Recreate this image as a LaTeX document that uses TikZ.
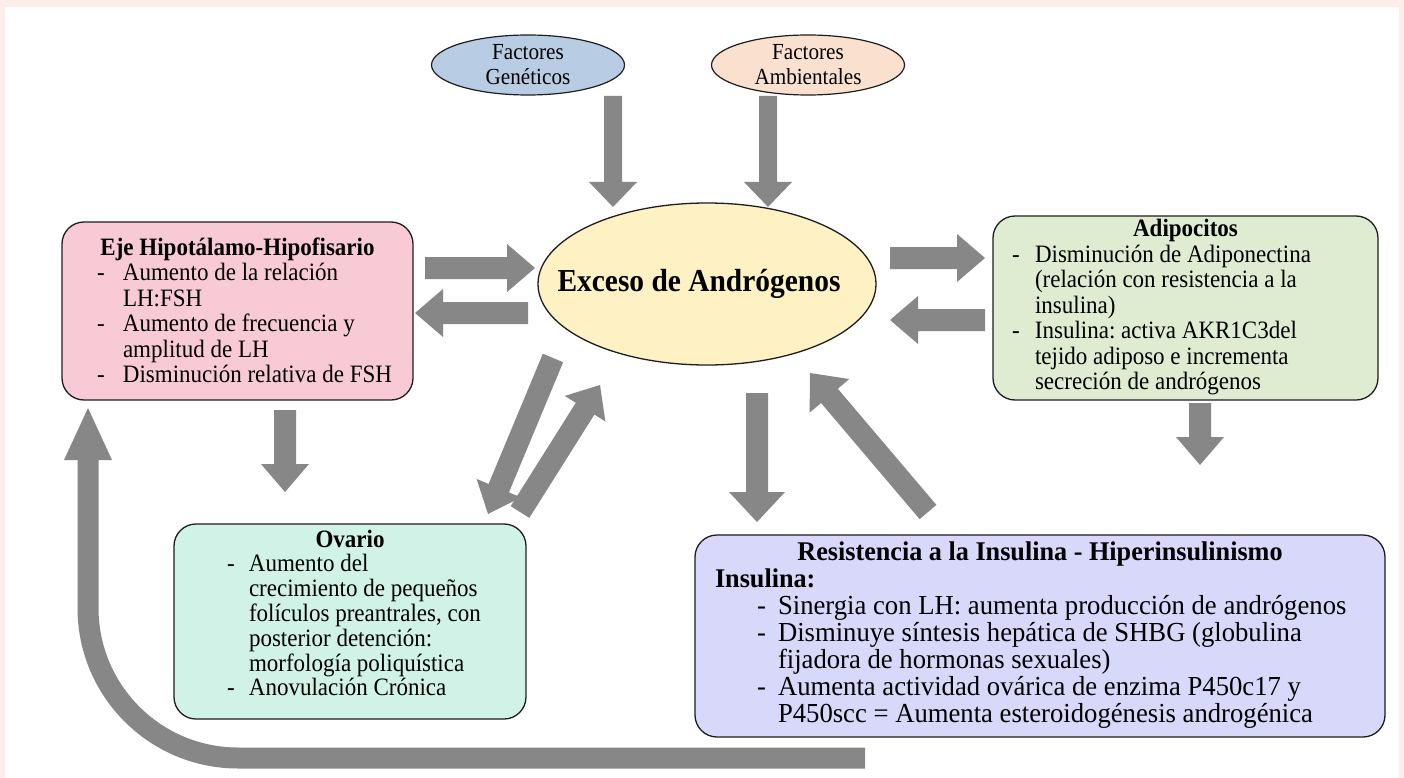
\documentclass[tikz,border=0pt]{standalone}
\usepackage{fontspec}
\setmainfont{Liberation Serif}[FakeStretch=0.92]
\newfontfamily\resfam{Liberation Serif}[FakeStretch=0.97]
\usetikzlibrary{calc,shapes.geometric}

\definecolor{pageedge}{HTML}{FDEDEB}
\definecolor{genblue}{HTML}{B8CCE4}
\definecolor{ambpeach}{HTML}{FAE0CE}
\definecolor{excyellow}{HTML}{FEF1C4}
\definecolor{ejepink}{HTML}{F8CAD5}
\definecolor{adipgreen}{HTML}{DFECD2}
\definecolor{ovamint}{HTML}{D0F2E7}
\definecolor{reslav}{HTML}{D8D8FA}
\definecolor{arrowgray}{HTML}{878787}
\definecolor{edge}{HTML}{1E1E1E}

\newcommand\bodyfont{\fontsize{25}{25.5}\selectfont\frenchspacing}
\newcommand\ovafont{\fontsize{25}{24.3}\selectfont\frenchspacing}
\newcommand\resfont{\resfam\fontsize{27.5}{25.8}\selectfont\frenchspacing}
\newcommand\reshead{\fontsize{27}{25.8}\selectfont\bfseries}
% bullet dash: indent, then a dash column of given width
\newcommand\bl[2]{\hspace*{#1}\makebox[#2][l]{-}}
% wide grey block arrow from #1 to #2: shaft half width #3, head half width #4, head length #5
\newcommand\blockarrow[5]{%
  \coordinate (ba-base) at ($(#2)!#5!(#1)$);
  \fill[arrowgray] ($(#1)!#3!90:(#2)$) -- ($(ba-base)!#3!90:(#2)$)
    -- ($(ba-base)!#4!90:(#2)$) -- (#2) -- ($(ba-base)!#4!-90:(#2)$)
    -- ($(ba-base)!#3!-90:(#2)$) -- ($(#1)!#3!-90:(#2)$) -- cycle;}

\begin{document}
\begin{tikzpicture}[x=1pt,y=-1pt,
  box/.style={draw=edge, line width=1.3pt, rounded corners=22pt, inner sep=0pt},
  factor/.style={ellipse, draw=edge, line width=1.2pt, inner sep=0pt,
    minimum width=193pt, minimum height=60pt, align=center,
    font=\fontsize{23}{25}\selectfont}]

% page background with its pale frame
\fill[pageedge] (0,0) rectangle (1404,778);
\fill[white] (5,7) rectangle (1399,778);
\useasboundingbox (0,0) rectangle (1404,778);

% causes
\node[factor, fill=genblue] (gen) at (528,65) {Factores\\Genéticos};
\node[factor, fill=ambpeach] (amb) at (808,65) {Factores\\Ambientales};

% central ellipse
\node[ellipse, draw=edge, line width=1.3pt, fill=excyellow, minimum width=338pt,
  minimum height=162pt, inner sep=0pt, font=\fontsize{32}{36}\selectfont\bfseries]
  (exc) at (707,284) {\makebox[0pt]{Exceso de Andrógenos\hspace{16pt}}};

% hypothalamic-pituitary axis
\node[box, fill=ejepink, minimum width=351pt, minimum height=178pt, font=\bodyfont]
  (eje) at (237.5,311) {%
\begin{tabular}{@{}l@{}}
\rule{0pt}{24pt}\makebox[351pt]{\bfseries Eje Hipotálamo-Hipofisario}\\
\bl{35pt}{26pt}Aumento de la relación\\
\hspace*{61pt}LH:FSH\\
\bl{35pt}{26pt}Aumento de frecuencia y\\
\hspace*{61pt}amplitud de LH\\
\bl{35pt}{26pt}Disminución relativa de FSH
\end{tabular}};

% adipocytes
\node[box, fill=adipgreen, minimum width=385pt, minimum height=184pt, font=\bodyfont]
  (adip) at (1185.5,308) {%
\begin{tabular}{@{}l@{}}
\makebox[385pt]{\bfseries Adipocitos}\\
\bl{19pt}{23pt}Disminución de Adiponectina\\
\hspace*{42pt}(relación con resistencia a la\\
\hspace*{42pt}insulina)\\
\bl{19pt}{23pt}Insulina: activa AKR1C3del\\
\hspace*{42pt}tejido adiposo e incrementa\\
\hspace*{42pt}secreción de andrógenos
\end{tabular}};

% ovary
\node[box, fill=ovamint, minimum width=352pt, minimum height=195pt, font=\ovafont]
  (ova) at (350,621.5) {%
\begin{tabular}{@{}l@{}}
\makebox[352pt]{\bfseries Ovario}\\
\bl{53pt}{22pt}Aumento del\\
\hspace*{75pt}crecimiento de pequeños\\
\hspace*{75pt}folículos preantrales, con\\
\hspace*{75pt}posterior detención:\\
\hspace*{75pt}morfología poliquística\\
\bl{53pt}{22pt}Anovulación Crónica\\[10pt]
\end{tabular}};

% insulin resistance
\node[box, fill=reslav, minimum width=690pt, minimum height=202pt, font=\resfont]
  (res) at (1040,636) {%
\begin{tabular}{@{}l@{}}
\makebox[690pt]{\reshead Resistencia a la Insulina - Hiperinsulinismo}\\
\hspace*{20pt}{\reshead Insulina:}\\
\bl{62pt}{21pt}Sinergia con LH: aumenta producción de andrógenos\\
\bl{62pt}{21pt}Disminuye síntesis hepática de SHBG (globulina\\
\hspace*{83pt}fijadora de hormonas sexuales)\\
\bl{62pt}{21pt}Aumenta actividad ovárica de enzima P450c17 y\\
\hspace*{83pt}P450scc = Aumenta esteroidogénesis androgénica
\end{tabular}};

% arrow end points
\coordinate (gen-s) at (613,96);   \coordinate (gen-e) at (613,207);
\coordinate (amb-s) at (768,96);   \coordinate (amb-e) at (768,207);
\coordinate (eje-o) at (425,268);  \coordinate (exc-l) at (535,268);
\coordinate (exc-lo) at (528,313); \coordinate (eje-i) at (415,313);
\coordinate (exc-ro) at (890,258); \coordinate (adip-i) at (985,258);
\coordinate (adip-o) at (985,320); \coordinate (exc-ri) at (890,320);
\coordinate (eje-d) at (285,410);  \coordinate (ova-t) at (285,492);
\coordinate (exc-dl) at (553,358); \coordinate (ova-i) at (488,514);
\coordinate (ova-o) at (520,512);  \coordinate (exc-il) at (600,385);
\coordinate (exc-d) at (757,393);  \coordinate (res-i) at (757,522);
\coordinate (res-o) at (928,512);  \coordinate (exc-ir) at (810,373);
\coordinate (adip-d) at (1200,403); \coordinate (res-ir) at (1200,465);

\blockarrow{gen-s}{gen-e}{9pt}{24pt}{25pt}
\blockarrow{amb-s}{amb-e}{9pt}{24pt}{25pt}
\blockarrow{eje-o}{exc-l}{11pt}{24pt}{28pt}
\blockarrow{exc-lo}{eje-i}{11pt}{24pt}{28pt}
\blockarrow{exc-ro}{adip-i}{11pt}{24pt}{28pt}
\blockarrow{adip-o}{exc-ri}{11pt}{24pt}{28pt}
\blockarrow{eje-d}{ova-t}{11pt}{24pt}{28pt}
\blockarrow{exc-dl}{ova-i}{11pt}{24pt}{28pt}
\blockarrow{ova-o}{exc-il}{11pt}{24pt}{28pt}
\blockarrow{exc-d}{res-i}{11pt}{28pt}{30pt}
\blockarrow{res-o}{exc-ir}{11pt}{26pt}{30pt}
\blockarrow{adip-d}{res-ir}{11pt}{24pt}{28pt}

% long feedback arrow back to the axis
\coordinate (loop-s) at (865,758);
\coordinate (loop-c) at (88,758);
\coordinate (loop-b) at (88,460);
\coordinate (loop-t) at (88,408);
\draw[arrowgray, line width=21pt, rounded corners=150pt] (loop-s) -- (loop-c) -- ($(loop-b)+(0,-2)$);
\fill[arrowgray] ($(loop-b)+(-24,0)$) -- (loop-t) -- ($(loop-b)+(24,0)$) -- cycle;
\end{tikzpicture}
\end{document}
